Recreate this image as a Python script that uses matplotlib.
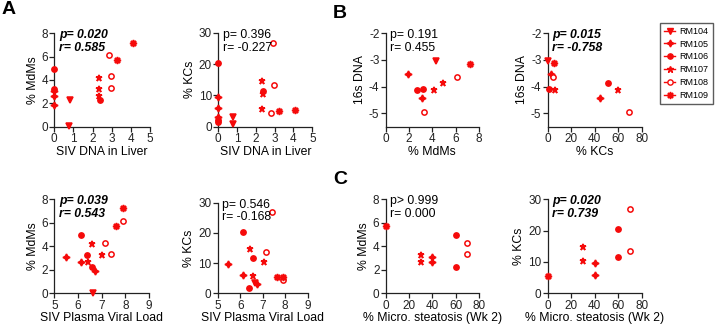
import numpy as np
import matplotlib
matplotlib.use("Agg")
import matplotlib.pyplot as plt
from matplotlib.lines import Line2D

plt.rcParams['font.family'] = ['Liberation Sans', 'DejaVu Sans']
plt.rcParams['axes.unicode_minus'] = False

animals = ['RM104', 'RM105', 'RM106', 'RM107', 'RM108', 'RM109']

# panel A, top left: % MdMs vs SIV DNA in liver
dna_mdm_x = [0.82, 0.77, 0, 0, 0, 0, 0, 2.4, 2.35, 2.35, 2.35, 2.85, 2.95, 2.95, 3.25, 4.1]
dna_mdm_y = [2.29, 0.06, 3.1, 2.6, 1.9, 4.95, 3.25, 2.25, 4.15, 3.25, 2.6, 6.15, 4.3, 3.3, 5.75, 7.2]
dna_mdm_g = ['RM104', 'RM104', 'RM105', 'RM105', 'RM105', 'RM106', 'RM106', 'RM106',
             'RM107', 'RM107', 'RM107', 'RM108', 'RM108', 'RM108', 'RM109', 'RM109']

# panel A, top right: % KCs vs SIV DNA in liver
dna_kc_x = [0.76, 0.8, 0, 0, 0, 0, 0, 0, 2.4, 2.35, 2.4, 2.35, 2.9, 2.95, 2.8, 3.25, 4.1]
dna_kc_y = [3.2, 0.85, 9.6, 5.9, 3.0, 20.2, 2.2, 1.5, 11.5, 14.6, 10.5, 5.6, 26.8, 13.3, 4.3, 5.1, 5.3]
dna_kc_g = ['RM104', 'RM104', 'RM105', 'RM105', 'RM105', 'RM106', 'RM106', 'RM106', 'RM106',
            'RM107', 'RM107', 'RM107', 'RM108', 'RM108', 'RM108', 'RM109', 'RM109']

# panel A, bottom left: % MdMs vs plasma viral load
vl_mdm_x = [6.62, 5.49, 6.11, 6.72, 6.11, 6.39, 6.58, 6.44, 6.58, 7.03, 7.14, 7.39, 7.89, 7.61, 7.92]
vl_mdm_y = [0.0, 3.12, 2.64, 1.9, 4.94, 3.26, 2.27, 2.64, 4.2, 3.26, 4.31, 3.32, 6.18, 5.76, 7.23]
vl_mdm_g = ['RM104', 'RM105', 'RM105', 'RM105', 'RM106', 'RM106', 'RM106', 'RM107', 'RM107',
            'RM107', 'RM108', 'RM108', 'RM108', 'RM109', 'RM109']

# panel A, bottom right: % KCs vs plasma viral load
vl_kc_x = [6.66, 5.47, 6.11, 6.76, 6.11, 6.59, 6.39, 6.44, 6.59, 7.06, 7.16, 7.41, 7.89, 7.62, 7.92]
vl_kc_y = [3.5, 9.7, 5.95, 3.0, 20.2, 11.6, 1.9, 14.7, 5.8, 10.5, 13.6, 26.8, 4.4, 5.3, 5.5]
vl_kc_g = ['RM104', 'RM105', 'RM105', 'RM105', 'RM106', 'RM106', 'RM106', 'RM107', 'RM107',
           'RM107', 'RM108', 'RM108', 'RM108', 'RM109', 'RM109']

# panel B: 16s DNA vs % MdMs and vs % KCs
mdm_16s_x = [4.29, 1.89, 3.09, 2.66, 3.23, 4.94, 4.17, 3.31, 6.14, 7.23]
mdm_16s_y = [-3.03, -3.52, -4.44, -4.14, -4.07, -3.86, -4.13, -4.94, -3.65, -3.14]
kc_16s_x = [0.57, 2.8, 44.5, 1.4, 51, 6.0, 59.6, 69.2, 4.3, 5.1]
kc_16s_y = [-3.03, -3.51, -4.44, -4.07, -3.86, -4.13, -4.14, -4.94, -3.65, -3.12]
b_g = ['RM104', 'RM105', 'RM105', 'RM106', 'RM106', 'RM107', 'RM107', 'RM108', 'RM108', 'RM109']

# panel C: % MdMs and % KCs vs micro steatosis
ste_x = [0, 30, 30, 40, 40, 60, 60, 70, 70]
ste_mdm_y = [5.76, 3.26, 2.64, 3.12, 2.64, 4.99, 2.27, 4.31, 3.35]
ste_kc_y = [5.5, 14.7, 10.4, 9.8, 5.96, 20.4, 11.7, 26.8, 13.5]
ste_g = ['RM109', 'RM107', 'RM107', 'RM105', 'RM105', 'RM106', 'RM106', 'RM108', 'RM108']

RED = '#f50a0a'
styles = {
    'RM104': dict(marker='v', ms=4.3, mfc=RED),
    'RM105': dict(marker=(4, 1, 0), ms=5, mfc=RED),
    'RM106': dict(marker='o', ms=3.8, mfc=RED),
    'RM107': dict(marker='*', ms=5, mfc=RED),
    'RM108': dict(marker='o', ms=3.8, mfc='white'),
    'RM109': dict(marker=(8, 1, 0), ms=5, mfc=RED),
}

W, H = 715, 324
fig = plt.figure(figsize=(W / 100, H / 100), dpi=100)


def add_ax(x0, x1, top, bot):
    return fig.add_axes([x0 / W, 1 - bot / H, (x1 - x0) / W, (bot - top) / H])


def draw(ax, xs, ys, gs, xlim, ylim, xticks, yticks, xlabel, ylabel, ptxt, rtxt, bold):
    for x, y, g in zip(xs, ys, gs):
        st = styles[g]
        ax.plot([x], [y], linestyle='none', marker=st['marker'], ms=st['ms'],
                mfc=st['mfc'], mec=RED, mew=1.1, clip_on=False, zorder=3)
    ax.set_xlim(*xlim)
    ax.set_ylim(*ylim)
    ax.set_xticks(xticks)
    ax.set_yticks(yticks)
    ax.tick_params(labelsize=8.5, length=3.5, width=0.9, pad=1, colors='#222222')
    for s in ['top', 'right']:
        ax.spines[s].set_visible(False)
    for s in ['left', 'bottom']:
        ax.spines[s].set_linewidth(0.9)
        ax.spines[s].set_color('#222222')
    ax.set_xlabel(xlabel, fontsize=8.8, labelpad=0.5)
    ax.set_ylabel(ylabel, fontsize=8.8, labelpad=2)
    kw = dict(fontsize=8.8, fontweight='bold' if bold else 'normal',
              fontstyle='italic' if bold else 'normal',
              transform=ax.transAxes, va='center', ha='left')
    ax.text(0.05, 0.98, ptxt, **kw)
    ax.text(0.05, 0.84, rtxt, **kw)


ax = add_ax(54.3, 150, 33.3, 126.7)
draw(ax, dna_mdm_x, dna_mdm_y, dna_mdm_g, (0, 5), (0, 8), range(6), range(0, 9, 2),
     'SIV DNA in Liver', '% MdMs', 'p= 0.020', 'r= 0.585', True)

ax = add_ax(218.3, 312.3, 32.7, 126.7)
draw(ax, dna_kc_x, dna_kc_y, dna_kc_g, (0, 5), (0, 30), range(6), range(0, 31, 10),
     'SIV DNA in Liver', '% KCs', 'p= 0.396', 'r= -0.227', False)

ax = add_ax(385.7, 479, 33.3, 126.7)
draw(ax, mdm_16s_x, mdm_16s_y, b_g, (0, 8), (-5.5, -2), range(0, 9, 2), [-5, -4, -3, -2],
     '% MdMs', '16s DNA', 'p= 0.191', 'r= 0.455', False)

ax = add_ax(547.7, 641.7, 33.3, 126.7)
draw(ax, kc_16s_x, kc_16s_y, b_g, (0, 80), (-5.5, -2), range(0, 81, 20), [-5, -4, -3, -2],
     '% KCs', '16s DNA', 'p= 0.015', 'r= -0.758', True)

ax = add_ax(54.3, 149, 199.3, 293.3)
draw(ax, vl_mdm_x, vl_mdm_y, vl_mdm_g, (5, 9), (0, 8), range(5, 10), range(0, 9, 2),
     'SIV Plasma Viral Load', '% MdMs', 'p= 0.039', 'r= 0.543', True)

ax = add_ax(217.7, 307.7, 202.7, 293.3)
draw(ax, vl_kc_x, vl_kc_y, vl_kc_g, (5, 9), (0, 30), range(5, 10), range(0, 31, 10),
     'SIV Plasma Viral Load', '% KCs', 'p= 0.546', 'r= -0.168', False)

ax = add_ax(385.7, 479, 199.3, 293.3)
draw(ax, ste_x, ste_mdm_y, ste_g, (0, 80), (0, 8), range(0, 81, 20), range(0, 9, 2),
     '% Micro. steatosis (Wk 2)', '% MdMs', 'p> 0.999', 'r= 0.000', False)

ax = add_ax(547.7, 641.7, 199.3, 293.3)
draw(ax, ste_x, ste_kc_y, ste_g, (0, 80), (0, 30), range(0, 81, 20), range(0, 31, 10),
     '% Micro. steatosis (Wk 2)', '% KCs', 'p= 0.020', 'r= 0.739', True)

# panel letters
fig.text(2 / W, 1 - 9 / H, 'A', fontsize=14, fontweight='bold', va='center')
fig.text(333 / W, 1 - 14 / H, 'B', fontsize=14, fontweight='bold', va='center')
fig.text(333 / W, 1 - 179 / H, 'C', fontsize=14, fontweight='bold', va='center')

handles = [Line2D([], [], linestyle='-', color=RED, lw=1, marker=styles[a]['marker'],
                  ms=styles[a]['ms'], mfc=styles[a]['mfc'], mec=RED, mew=1.0)
           for a in animals]
leg = fig.legend(handles, animals, loc='upper right', bbox_to_anchor=(712.7 / W, 1 - 22.7 / H),
                 fontsize=6.5, frameon=True, fancybox=False, handlelength=1.2,
                 handletextpad=0.5, labelspacing=0.42, borderpad=0.45, borderaxespad=0)
leg.get_frame().set_edgecolor('#333333')
leg.get_frame().set_linewidth(1.0)

fig.savefig('out.png', dpi=100)
